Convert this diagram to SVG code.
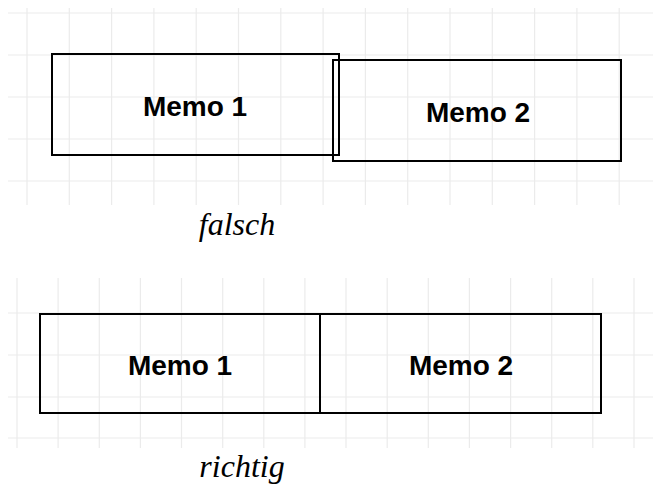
<svg xmlns="http://www.w3.org/2000/svg" width="653" height="490" viewBox="0 0 653 490">
<style>
.grid line{stroke:#ebebeb;stroke-width:1.2}
.box{fill:none;stroke:#000;stroke-width:2}
.memo{font-family:"Liberation Sans",Arial,sans-serif;font-weight:bold;font-size:28px;fill:#000;text-anchor:middle}
.cap{font-family:"Liberation Serif","Times New Roman",serif;font-style:italic;font-size:32px;fill:#000;text-anchor:middle}
</style>
<rect width="653" height="490" fill="#fff"/>
<g class="grid" id="grid-top">
<line x1="8" y1="13" x2="653" y2="13"/>
<line x1="8" y1="55" x2="653" y2="55"/>
<line x1="8" y1="97" x2="653" y2="97"/>
<line x1="8" y1="139" x2="653" y2="139"/>
<line x1="8" y1="181" x2="653" y2="181"/>
<line x1="27" y1="8" x2="27" y2="205"/>
<line x1="69.3" y1="8" x2="69.3" y2="205"/>
<line x1="111.6" y1="8" x2="111.6" y2="205"/>
<line x1="153.9" y1="8" x2="153.9" y2="205"/>
<line x1="196.2" y1="8" x2="196.2" y2="205"/>
<line x1="238.5" y1="8" x2="238.5" y2="205"/>
<line x1="280.8" y1="8" x2="280.8" y2="205"/>
<line x1="323.1" y1="8" x2="323.1" y2="205"/>
<line x1="365.4" y1="8" x2="365.4" y2="205"/>
<line x1="407.7" y1="8" x2="407.7" y2="205"/>
<line x1="450" y1="8" x2="450" y2="205"/>
<line x1="492.3" y1="8" x2="492.3" y2="205"/>
<line x1="534.6" y1="8" x2="534.6" y2="205"/>
<line x1="576.9" y1="8" x2="576.9" y2="205"/>
<line x1="619.2" y1="8" x2="619.2" y2="205"/>
</g>
<g class="grid" id="grid-bottom">
<line x1="8" y1="313" x2="653" y2="313"/>
<line x1="8" y1="355" x2="653" y2="355"/>
<line x1="8" y1="397" x2="653" y2="397"/>
<line x1="8" y1="438" x2="653" y2="438"/>
<line x1="17" y1="278" x2="17" y2="448"/>
<line x1="58.1" y1="278" x2="58.1" y2="448"/>
<line x1="99.3" y1="278" x2="99.3" y2="448"/>
<line x1="140.4" y1="278" x2="140.4" y2="448"/>
<line x1="181.5" y1="278" x2="181.5" y2="448"/>
<line x1="222.7" y1="278" x2="222.7" y2="448"/>
<line x1="263.8" y1="278" x2="263.8" y2="448"/>
<line x1="304.9" y1="278" x2="304.9" y2="448"/>
<line x1="346" y1="278" x2="346" y2="448"/>
<line x1="387.2" y1="278" x2="387.2" y2="448"/>
<line x1="428.3" y1="278" x2="428.3" y2="448"/>
<line x1="469.4" y1="278" x2="469.4" y2="448"/>
<line x1="510.6" y1="278" x2="510.6" y2="448"/>
<line x1="551.7" y1="278" x2="551.7" y2="448"/>
<line x1="592.8" y1="278" x2="592.8" y2="448"/>
<line x1="634" y1="278" x2="634" y2="448"/>
</g>
<g id="falsch-memo1">
<rect class="box" x="52" y="54" width="287" height="101"/>
<text class="memo" x="195" y="116">Memo 1</text>
</g>
<g id="falsch-memo2">
<rect class="box" x="333" y="60" width="288" height="101"/>
<text class="memo" x="478" y="122">Memo 2</text>
</g>
<text class="cap" x="237" y="235">falsch</text>
<g id="richtig-memo1">
<rect class="box" x="40" y="314" width="280" height="99"/>
<text class="memo" x="180" y="375">Memo 1</text>
</g>
<g id="richtig-memo2">
<rect class="box" x="320" y="314" width="281" height="99"/>
<text class="memo" x="461" y="375">Memo 2</text>
</g>
<text class="cap" x="242" y="477">richtig</text>
<g id="connectors"/>
</svg>
